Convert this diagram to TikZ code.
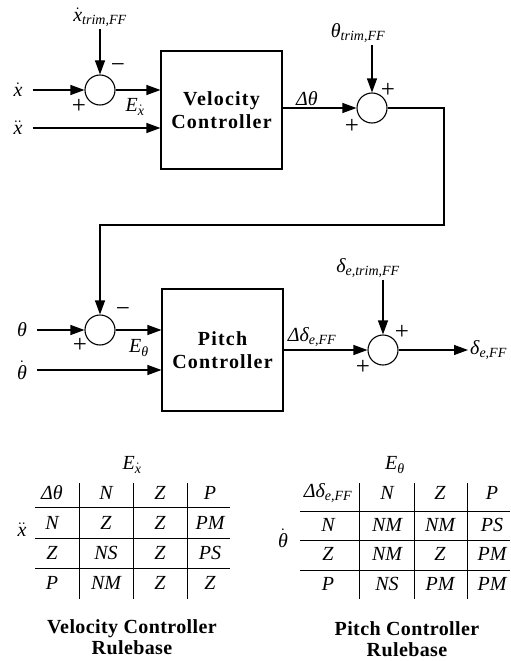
\documentclass[tikz,border=0pt]{standalone}
\usepackage{fontspec}
\setmainfont{Liberation Serif}
\newfontfamily\blockfont[LetterSpace=6]{Liberation Serif}
\newfontfamily\titlefont[LetterSpace=2]{Liberation Serif}
\usepackage{amsmath}
\usetikzlibrary{arrows.meta,positioning,calc}

\begin{document}
\begin{tikzpicture}[x=1pt,y=-1pt,
  blockbox/.style={draw,line width=1.1pt,minimum width=121pt,minimum height=#1,
                   align=center,font=\blockfont\bfseries\fontsize{20}{23}\selectfont},
  sumnode/.style={draw,circle,line width=1.1pt,minimum size=30pt,inner sep=0pt},
  lbl/.style={font=\fontsize{20}{23}\selectfont,inner sep=2pt},
  sgn/.style={font=\fontsize{25}{26}\selectfont,inner sep=0pt},
  cell/.style={font=\itshape\fontsize{20}{23}\selectfont,inner sep=0pt},
  title/.style={font=\titlefont\bfseries\fontsize{20}{21}\selectfont,align=center},
  arr/.style={-{Triangle[length=14pt,width=10pt]},line width=1.1pt},
  tabline/.style={line width=0.8pt}
]
  \useasboundingbox (0,0) rectangle (511,661);

  % Velocity loop
  \node[blockbox=118pt] (vc) at (221.5,110) {Velocity\\Controller};
  \node[sumnode] (s1) at (100,90) {};
  \node[lbl] (xd)  at (18,90)  {$\dot{\textit{x}}$};
  \node[lbl] (xdd) at (18,128) {$\ddot{\textit{x}}$};
  \node[lbl] (xt)  at (100,17) {$\dot{\textit{x}}_{\textit{trim,FF}}$};
  \node[sgn] (m1) at (118,68)  {−};
  \node[sgn] (p1) at (79,106)  {+};
  \node[lbl] (ex) at (135,107) {$\textit{E}_{\dot{\textit{x}}}$};

  \node[sumnode] (s2) at (372,108) {};
  \node[lbl] (dth) at (307,99) {\textit{Δθ}};
  \node[lbl] (tt)  at (358,33) {$\textit{θ}_{\textit{trim,FF}}$};
  \node[sgn] (p2) at (388,90)  {+};
  \node[sgn] (p3) at (352,126) {+};
  \coordinate (loopR) at (444,225);

  % Pitch loop
  \node[blockbox=122pt] (pc) at (222.5,350) {Pitch\\Controller};
  \node[sumnode] (s3) at (100,330) {};
  \node[lbl] (th)  at (22,330) {\textit{θ}};
  \node[lbl] (thd) at (22,370) {$\dot{\textit{θ}}$};
  \node[sgn] (m2) at (123,312) {−};
  \node[sgn] (p4) at (80,345)  {+};
  \node[lbl] (eth) at (139,348) {$\textit{E}_{\textit{θ}}$};

  \node[sumnode] (s4) at (383,350) {};
  \node[lbl] (dde) at (312,337) {$\textit{Δδ}_{\textit{e,FF}}$};
  \node[lbl] (det) at (368,268) {$\textit{δ}_{\textit{e,trim,FF}}$};
  \node[sgn] (p5) at (402,332) {+};
  \node[sgn] (p6) at (363,367) {+};
  \node[lbl,anchor=west] (out) at (468,350) {$\textit{δ}_{\textit{e,FF}}$};

  % Arrows
  \draw[arr,shorten <=8pt] (xd) -- (s1);
  \draw[arr] (xt) -- (s1);
  \draw[arr] (s1) -- (s1 -| vc.west);
  \draw[arr,shorten <=8pt] (xdd) -- (xdd -| vc.west);
  \draw[arr] (vc.east |- s2) -- (s2);
  \draw[arr] (tt.south -| s2) -- (s2);
  \draw[arr] (s2) -| (loopR) -| (s3);
  \draw[arr,shorten <=8pt] (th) -- (s3);
  \draw[arr] (s3) -- (s3 -| pc.west);
  \draw[arr,shorten <=8pt] (thd) -- (thd -| pc.west);
  \draw[arr] (pc.east |- s4) -- (s4);
  \draw[arr] (det.south -| s4) -- (s4);
  \draw[arr] (s4) -- (out);

  % Velocity rulebase
  \node[lbl] (vtE) at (132,465) {$\textit{E}_{\dot{\textit{x}}}$};
  \node[lbl] (vtX) at (22,530) {$\ddot{\textit{x}}$};
  \node[cell] (vh0) at (52,493)  {Δθ};
  \node[cell] (vh1) at (106,493) {N};
  \node[cell] (vh2) at (160,493) {Z};
  \node[cell] (vh3) at (210,493) {P};
  \foreach \r/\y/\a/\b/\c/\d in {1/523/N/Z/Z/PM, 2/553/Z/NS/Z/PS, 3/583/P/NM/Z/Z}{
    \node[cell] (v\r a) at (52,\y)  {\a};
    \node[cell] (v\r b) at (106,\y) {\b};
    \node[cell] (v\r c) at (160,\y) {\c};
    \node[cell] (v\r d) at (210,\y) {\d};
  }
  \foreach \y in {507,538,568} \draw[tabline] (35,\y) -- (230,\y);
  \foreach \x in {79,133,187} \draw[tabline] (\x,483) -- (\x,599);
  \node[title] (vtT) at (132,637) {Velocity Controller\\Rulebase};

  % Pitch rulebase
  \node[lbl] (ptE) at (395,465) {$\textit{E}_{\textit{θ}}$};
  \node[lbl] (ptT) at (283,538) {$\dot{\textit{θ}}$};
  \node[cell] (ph0) at (328,493) {$\textit{Δδ}_{\textit{e,FF}}$};
  \node[cell] (ph1) at (387,493) {N};
  \node[cell] (ph2) at (440,493) {Z};
  \node[cell] (ph3) at (492,493) {P};
  \foreach \r/\y/\a/\b/\c/\d in {1/525/N/NM/NM/PS, 2/554/Z/NM/Z/PM, 3/584/P/NS/PM/PM}{
    \node[cell] (p\r a) at (328,\y) {\a};
    \node[cell] (p\r b) at (387,\y) {\b};
    \node[cell] (p\r c) at (440,\y) {\c};
    \node[cell] (p\r d) at (492,\y) {\d};
  }
  \foreach \y in {511,540,570} \draw[tabline] (300,\y) -- (510,\y);
  \foreach \x in {359,414,467} \draw[tabline] (\x,483) -- (\x,599);
  \node[title] (ptR) at (407,639) {Pitch Controller\\Rulebase};
\end{tikzpicture}
\end{document}
